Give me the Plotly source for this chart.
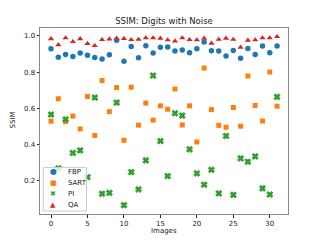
import plotly.graph_objects as go

images = list(range(32))
FBP = [0.929, 0.882, 0.897, 0.886, 0.905, 0.893, 0.881, 0.872, 0.896, 0.976, 0.860, 0.942,
       0.879, 0.946, 0.905, 0.938, 0.939, 0.917, 0.922, 0.907, 0.929, 0.966, 0.918, 0.917,
       0.889, 0.920, 0.876, 0.931, 0.897, 0.945, 0.907, 0.944]
SART = [0.528, 0.652, 0.526, 0.556, 0.485, 0.665, 0.449, 0.753, 0.581, 0.714, 0.422, 0.716,
        0.506, 0.628, 0.534, 0.613, 0.594, 0.706, 0.507, 0.613, 0.413, 0.822, 0.592, 0.505,
        0.494, 0.604, 0.500, 0.778, 0.615, 0.529, 0.800, 0.611]
PI = [0.565, 0.267, 0.538, 0.352, 0.366, 0.218, 0.659, 0.126, 0.131, 0.631, 0.063, 0.246,
      0.150, 0.311, 0.780, 0.418, 0.224, 0.572, 0.559, 0.372, 0.239, 0.176, 0.259, 0.128,
      0.446, 0.120, 0.322, 0.303, 0.333, 0.156, 0.122, 0.662]
QA = [0.984, 0.951, 0.989, 0.968, 0.984, 0.958, 0.946, 0.979, 0.983, 0.987, 0.985, 0.979,
      0.981, 0.989, 0.989, 0.987, 0.978, 0.972, 0.989, 0.979, 0.978, 0.987, 0.959, 0.981,
      0.987, 0.981, 0.937, 0.976, 0.978, 0.989, 0.989, 0.996]

names = ["FBP", "SART", "PI", "QA"]
series = [FBP, SART, PI, QA]
colors = ["#1f77b4", "#ff7f0e", "#2ca02c", "#d62728"]
symbols = ["circle", "square", "x", "triangle-up"]
sizes = [5.5, 5, 5.5, 5.5]
edge_widths = [0, 0, 0.8, 0]
glyphs = ["\u25cf", "\u25a0", "\u2716", "\u25b2"]
glyph_sizes = [8, 7, 7, 7]

xticks = [0, 5, 10, 15, 20, 25, 30]
yticks = [0.2, 0.4, 0.6, 0.8, 1.0]
yticklabels = ["0.2", "0.4", "0.6", "0.8", "1.0"]

FONT = "DejaVu Sans"

fig = go.Figure()
for name, vals, c, s, sz, ew in zip(names, series, colors, symbols, sizes, edge_widths):
    fig.add_trace(go.Scatter(
        x=images, y=vals, mode="markers", name=name, showlegend=False,
        marker=dict(color=c, symbol=s, size=sz, line=dict(width=ew, color=c)),
    ))

# custom legend (matplotlib-like compact box)
legend_top = 0.2265
legend_step = 0.0586
fig.add_shape(type="rect", xref="paper", yref="paper",
              x0=0.0133, x1=0.1877, y0=0.0162, y1=0.2503,
              fillcolor="rgba(255,255,255,0.8)", line=dict(color="#cccccc", width=1),
              layer="above")
for k, (name, c, g, gs) in enumerate(zip(names, colors, glyphs, glyph_sizes)):
    yy = legend_top - k * legend_step
    fig.add_annotation(xref="paper", yref="paper", x=0.0537, y=yy, text=g,
                       showarrow=False, xanchor="center", yanchor="middle",
                       font=dict(family=FONT, size=gs, color=c))
    fig.add_annotation(xref="paper", yref="paper", x=0.105, y=yy, text=name,
                       showarrow=False, xanchor="left", yanchor="middle",
                       font=dict(family=FONT, size=7, color="#222"))

# axis titles
fig.add_annotation(xref="paper", yref="paper", x=0.5, y=-0.0917, text="Images",
                   showarrow=False, xanchor="center", yanchor="middle",
                   font=dict(family=FONT, size=7, color="#222"))
fig.add_annotation(xref="paper", yref="paper", x=-0.109, y=0.508, text="SSIM",
                   textangle=-90, showarrow=False, xanchor="center", yanchor="middle",
                   font=dict(family=FONT, size=7, color="#222"))

fig.update_layout(
    width=320, height=240,
    margin=dict(l=40, r=32, t=28, b=26),
    paper_bgcolor="white", plot_bgcolor="white",
    font=dict(family=FONT, size=7, color="#222"),
    title=dict(text="SSIM: Digits with Noise", x=0.5125, xanchor="center",
               y=1 - 21.5 / 240, yanchor="middle", yref="container",
               font=dict(family=FONT, size=8.5, color="#222")),
    showlegend=False,
)
fig.update_xaxes(range=[-1.51, 32.5], tickvals=xticks, ticks="outside", ticklen=2.5,
                 tickcolor="#222", showgrid=False, zeroline=False, automargin=False,
                 showline=True, linecolor="#888", linewidth=1, mirror=True)
fig.update_yaxes(range=[0.014, 1.044], tickvals=yticks, ticktext=yticklabels,
                 ticks="outside", ticklen=2.5, tickcolor="#222", showgrid=False,
                 zeroline=False, automargin=False,
                 showline=True, linecolor="#888", linewidth=1, mirror=True)

fig.write_html("out.html", config={"displayModeBar": False},
               post_script="document.body.style.margin='0';document.body.style.padding='0';")
